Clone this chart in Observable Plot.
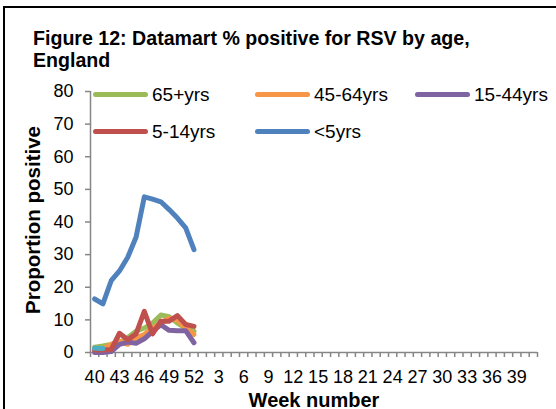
<!DOCTYPE html>
<html>
<head>
<meta charset="utf-8">
<script src="https://cdn.jsdelivr.net/npm/d3@7"></script>
<script src="https://cdn.jsdelivr.net/npm/@observablehq/plot@0.6"></script>
<style>
  html, body { margin: 0; padding: 0; background: #fff; overflow: hidden; }
  #wrap { position: relative; width: 556px; height: 409px; overflow: hidden; font-family: "Liberation Sans", Arial, sans-serif; color: #000; }
  #frame { position: absolute; left: 3px; top: 6px; width: 600px; height: 460px; border: 2px solid #000; box-sizing: border-box; }
  #title { position: absolute; left: 33px; top: 27px; font-size: 19.6px; font-weight: bold; line-height: 22px; white-space: nowrap; }
  #chart { position: absolute; left: 0; top: 0; }
  #legend { position: absolute; left: 93px; top: 76px; display: grid; grid-template-columns: 162px 160px 160px; grid-auto-rows: 37px; }
  .item { display: flex; align-items: center; font-size: 19px; white-space: nowrap; }
  .sw { width: 55px; height: 5px; border-radius: 3px; margin-right: 4px; flex: none; }
  #ytitle { position: absolute; left: 33px; top: 220px; transform: translate(-50%, -50%) rotate(-90deg); font-size: 20.5px; font-weight: bold; white-space: nowrap; }
  #xtitle { position: absolute; left: 314px; top: 400px; transform: translate(-50%, -50%); font-size: 20px; font-weight: bold; white-space: nowrap; }
</style>
</head>
<body>
<div id="wrap">
  <div id="frame"></div>
  <div id="chart"></div>
  <div id="title">Figure 12: Datamart % positive for RSV by age,<br>England</div>
  <div id="legend"></div>
  <div id="ytitle">Proportion positive</div>
  <div id="xtitle">Week number</div>
</div>
<script>
// Week categories on the x axis (season weeks 40-52, then 1-41)
const weeks = [40,41,42,43,44,45,46,47,48,49,50,51,52,
  1,2,3,4,5,6,7,8,9,10,11,12,13,14,15,16,17,18,19,20,
  21,22,23,24,25,26,27,28,29,30,31,32,33,34,35,36,37,38,39,40,41];
const yTicks = [0,10,20,30,40,50,60,70,80];

// Series (weeks 40-52)
const seriesNames = ["65+yrs", "45-64yrs", "15-44yrs", "5-14yrs", "<5yrs"];
const seriesColors = ["#9BBB59", "#F79646", "#8064A2", "#C0504D", "#4F81BD"];
const v65plus = [1.6, 2.0, 2.5, 3.0, 4.5, 6.5, 7.5, 9.0, 11.5, 11.0, 9.0, 7.5, 6.5];
const v45to64 = [0.6, 1.0, 2.5, 3.5, 2.5, 4.5, 5.5, 7.5, 9.0, 10.5, 10.0, 7.5, 5.5];
const v15to44 = [0.0, 0.0, 0.3, 2.5, 3.2, 2.8, 4.2, 6.5, 8.5, 6.8, 6.7, 6.7, 3.0];
const v5to14  = [0.8, 0.8, 0.9, 5.9, 3.9, 5.7, 12.6, 5.7, 9.6, 9.6, 11.3, 8.6, 8.0];
const vUnder5 = [16.4, 14.9, 22.0, 25.0, 29.2, 35.3, 47.7, 47.0, 46.2, 43.8, 41.2, 38.2, 31.5];
// unlabelled series visible only at the start
const vOther  = [1.3, 1.2];
const otherColor = "#4BACC6";

const seriesValues = [v65plus, v45to64, v15to44, v5to14, vUnder5];

const toRows = vals => vals.map((v, i) => ({x: i, y: v}));
const boundaries = weeks.map((w, i) => i - 0.5).concat([weeks.length - 0.5]);
const labelIdx = weeks.map((w, i) => i).filter(i => i % 3 === 0);

const axisColor = "#868686";
const lineOpts = c => ({x: "x", y: "y", stroke: c, strokeWidth: 5, strokeLinejoin: "round", strokeLinecap: "round"});

const marks = [
  Plot.ruleY([0], {stroke: axisColor, strokeWidth: 1.5}),
  Plot.ruleX([-0.5], {stroke: axisColor, strokeWidth: 1.5}),
  Plot.axisY({ticks: yTicks, tickSize: 5, tickPadding: 12, stroke: axisColor, fill: "#000", strokeWidth: 1.5, label: null, fontSize: 18}),
  Plot.axisX({ticks: boundaries, tickSize: 5, stroke: axisColor, strokeWidth: 1.5, tickFormat: () => "", label: null}),
  Plot.axisX({ticks: labelIdx, tickSize: 0, tickPadding: 18, fill: "#000", tickFormat: i => String(weeks[i]), label: null, fontSize: 18})
];
// draw order: small series, unlabelled, then <5yrs on top
for (let s = 0; s < 4; s++) marks.push(Plot.line(toRows(seriesValues[s]), lineOpts(seriesColors[s])));
marks.push(Plot.line(toRows(vOther), lineOpts(otherColor)));
marks.push(Plot.line(toRows(seriesValues[4]), lineOpts(seriesColors[4])));

const chart = Plot.plot({
  width: 556,
  height: 409,
  marginLeft: 90,
  marginRight: 19,
  marginTop: 91,
  marginBottom: 57,
  style: {fontFamily: "'Liberation Sans', Arial, sans-serif", fontSize: "18px", color: "#000", background: "transparent", overflow: "visible"},
  x: {type: "linear", domain: [-0.5, weeks.length - 0.5]},
  y: {domain: [0, 80]},
  marks
});
document.getElementById("chart").appendChild(chart);

const legend = document.getElementById("legend");
seriesNames.forEach((n, i) => {
  const item = document.createElement("div");
  item.className = "item";
  const sw = document.createElement("span");
  sw.className = "sw";
  sw.style.background = seriesColors[i];
  const t = document.createElement("span");
  t.textContent = n;
  item.appendChild(sw);
  item.appendChild(t);
  legend.appendChild(item);
});
</script>
</body>
</html>
